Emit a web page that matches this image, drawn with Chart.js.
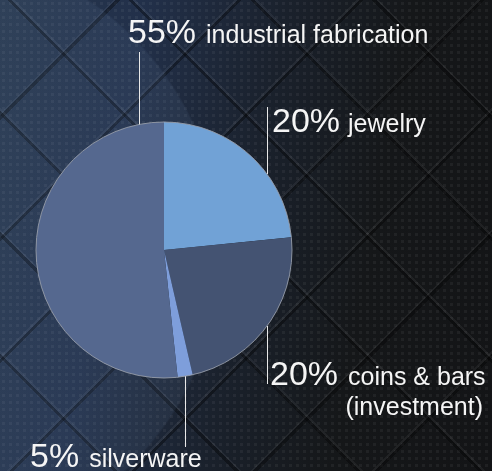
<!DOCTYPE html>
<html>
<head>
<meta charset="utf-8">
<script src="https://cdn.jsdelivr.net/npm/chart.js@4.4.1/dist/chart.umd.min.js"></script>
<style>
  html, body { margin: 0; padding: 0; }
  body {
    width: 492px; height: 471px; overflow: hidden;
    background:
      radial-gradient(circle at -80px 250px, rgba(120,150,190,0.10) 0 300px, rgba(120,150,190,0) 302px),
      repeating-linear-gradient(45deg, rgba(0,0,0,0) 0 80px, rgba(0,0,0,0.35) 80px 83px, rgba(255,255,255,0.05) 83px 85px, rgba(0,0,0,0) 85px 86px),
      repeating-linear-gradient(-45deg, rgba(0,0,0,0) 0 80px, rgba(0,0,0,0.35) 80px 83px, rgba(255,255,255,0.05) 83px 85px, rgba(0,0,0,0) 85px 86px),
      radial-gradient(circle, rgba(255,255,255,0.05) 0 1.5px, rgba(0,0,0,0) 2px) 0 0 / 7px 7px,
      linear-gradient(100deg, #27374d 0%, #22304a 25%, #1a212c 50%, #151719 72%, #131416 100%);
  }
  canvas { display: block; }
</style>
</head>
<body>
<canvas id="myChart" width="492" height="471"></canvas>
<script>
// slice sizes (clockwise from 12 o'clock)
const names = ['jewelry', 'coins & bars', 'silverware', 'industrial fabrication'];
const shares = [23.4, 23.0, 1.9, 51.7];
// printed labels
const pctLabels = ['20%', '20%', '5%', '55%'];
const nameLines = [['jewelry'], ['coins & bars', '(investment)'], ['silverware'], ['industrial fabrication']];
const sliceColors = ['#71a2d6', '#445372', '#7e9edb', '#55688f'];

// where each label and its leader line go
const labelPos = [
  { lineX: 267, lineEnd: 107, edge: 'top', x: 272, y: 132, gap: 8 },
  { lineX: 267, lineEnd: 384, edge: 'bottom', x: 270, y: 385, gap: 10, right2: 483, y2: 415 },
  { lineX: 185, lineEnd: 447, edge: 'bottom', x: 30, y: 467, gap: 10 },
  { lineX: 139, lineEnd: 52, edge: 'top', x: 128, y: 43, gap: 10 }
];

const calloutPlugin = {
  id: 'callouts',
  afterDatasetsDraw(chart) {
    const ctx = chart.ctx;
    const arc = chart.getDatasetMeta(0).data[0];
    const cx = arc.x, cy = arc.y, r = arc.outerRadius;

    // thin outline round the pie
    ctx.save();
    ctx.beginPath();
    ctx.arc(cx, cy, r, 0, Math.PI * 2);
    ctx.strokeStyle = 'rgba(150,156,168,0.9)';
    ctx.lineWidth = 1;
    ctx.stroke();

    ctx.strokeStyle = '#e8e8e8';
    ctx.fillStyle = '#f5f5f5';
    ctx.textBaseline = 'alphabetic';
    labelPos.forEach((p, i) => {
      const dx = p.lineX - cx;
      const dy = Math.sqrt(Math.max(r * r - dx * dx, 0));
      const edgeY = p.edge === 'top' ? cy - dy : cy + dy;
      ctx.beginPath();
      ctx.moveTo(p.lineX + 0.5, edgeY);
      ctx.lineTo(p.lineX + 0.5, p.lineEnd);
      ctx.lineWidth = 1;
      ctx.stroke();

      ctx.textAlign = 'left';
      ctx.font = '34px "Liberation Sans", Arial, sans-serif';
      ctx.fillText(pctLabels[i], p.x, p.y);
      const w = ctx.measureText(pctLabels[i]).width;
      ctx.font = '25px "Liberation Sans", Arial, sans-serif';
      ctx.fillText(nameLines[i][0], p.x + w + p.gap, p.y);
      if (nameLines[i][1]) {
        ctx.textAlign = 'right';
        ctx.fillText(nameLines[i][1], p.right2, p.y2);
      }
    });
    ctx.restore();
  }
};

new Chart(document.getElementById('myChart').getContext('2d'), {
  type: 'pie',
  data: {
    labels: names,
    datasets: [{
      data: shares,
      backgroundColor: sliceColors,
      borderWidth: 0
    }]
  },
  options: {
    responsive: false,
    animation: false,
    layout: { padding: { left: 36, right: 200, top: 122, bottom: 93 } },
    plugins: {
      legend: { display: false },
      tooltip: { enabled: false }
    }
  },
  plugins: [calloutPlugin]
});
</script>
</body>
</html>
